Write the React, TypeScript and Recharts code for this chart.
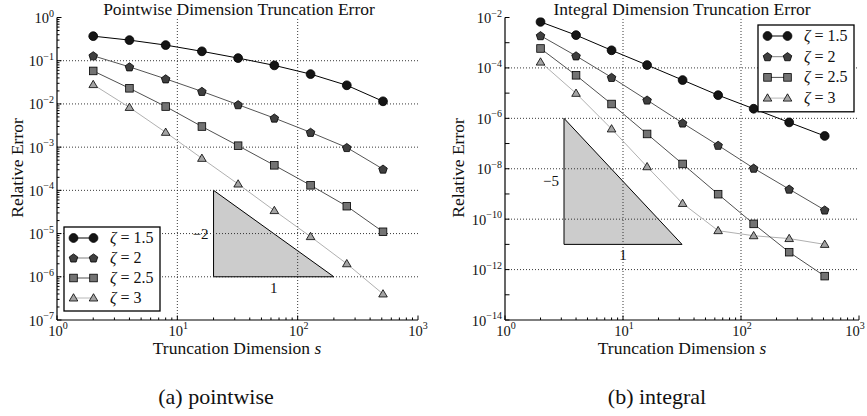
import { LineChart, Line, XAxis, YAxis, ReferenceLine, ReferenceArea } from "recharts";

const SERIF = "'Liberation Serif', 'DejaVu Serif', serif";

// truncation dimensions s
const dims = [2, 4, 8, 16, 32, 64, 128, 256, 512];

// (a) pointwise relative error
const pointZeta15 = [0.37, 0.3, 0.23, 0.165, 0.115, 0.078, 0.049, 0.027, 0.0115];
const pointZeta2 = [0.13, 0.072, 0.038, 0.0195, 0.0096, 0.0047, 0.0022, 0.00098, 0.00031];
const pointZeta25 = [0.058, 0.023, 0.0087, 0.003, 0.00108, 0.00038, 0.000131, 4.3e-5, 1.1e-5];
const pointZeta3 = [0.028, 0.0083, 0.0022, 5.5e-4, 1.4e-4, 3.4e-5, 8.5e-6, 2.0e-6, 4e-7];

// (b) integral relative error
const intZeta15 = [6.7e-3, 2e-3, 5e-4, 1.3e-4, 3.3e-5, 8.3e-6, 2.4e-6, 6.9e-7, 2.0e-7];
const intZeta2 = [1.9e-3, 3e-4, 4.2e-5, 5.3e-6, 6.5e-7, 8.5e-8, 1.05e-8, 1.55e-9, 2.3e-10];
const intZeta25 = [5.9e-4, 5.1e-5, 3.7e-6, 2.4e-7, 1.55e-8, 9.8e-10, 6.5e-11, 4.9e-12, 5.5e-13];
const intZeta3 = [1.7e-4, 9.8e-6, 3.8e-7, 1.2e-8, 4.2e-10, 3.5e-11, 2.2e-11, 1.7e-11, 1.0e-11];

const zetaLabels = ["1.5", "2", "2.5", "3"];

// axis decades
const xDecades = [1, 10, 100, 1000];
const pointYDecades = [1e-7, 1e-6, 1e-5, 1e-4, 1e-3, 1e-2, 1e-1, 1];
const intYDecades = [1e-14, 1e-13, 1e-12, 1e-11, 1e-10, 1e-9, 1e-8, 1e-7, 1e-6, 1e-5, 1e-4, 1e-3, 1e-2];
const minorSteps = [2, 3, 4, 5, 6, 7, 8, 9];

// slope triangles
const pointSlope = { s0: 20, s1: 200, e0: 1e-6, e1: 1e-4, label: "\u22122" };
const intSlope = { s0: 3.1623, s1: 31.623, e0: 1e-11, e1: 1e-6, label: "\u22125" };

type Kind = "circle" | "pentagon" | "square" | "triangle";
const kinds: Kind[] = ["circle", "pentagon", "square", "triangle"];
const lineColors = ["#000000", "#555555", "#505050", "#b0b0b0"];
const legendLineColors = ["#000000", "#808080", "#505050", "#b8b8b8"];

const withMinors = (decades: number[]) => {
  const out: number[] = [];
  decades.forEach((d, i) => {
    out.push(d);
    if (i < decades.length - 1) minorSteps.forEach((m) => out.push(d * m));
  });
  return out;
};

const toRows = (vals: number[]) => dims.map((s, i) => ({ s, e: vals[i] }));

const Marker = ({ kind, cx, cy }: { kind: Kind; cx: number; cy: number }) => {
  if (kind === "circle") return <circle cx={cx} cy={cy} r={4.4} fill="#151515" stroke="#000" strokeWidth={0.8} />;
  if (kind === "pentagon") {
    const pts = [0, 1, 2, 3, 4]
      .map((k) => {
        const a = -Math.PI / 2 + (k * 2 * Math.PI) / 5;
        return `${cx + 4.5 * Math.cos(a)},${cy + 0.4 + 4.5 * Math.sin(a)}`;
      })
      .join(" ");
    return <polygon points={pts} fill="#3f3f3f" stroke="#000" strokeWidth={0.8} />;
  }
  if (kind === "square")
    return <rect x={cx - 3.8} y={cy - 3.8} width={7.6} height={7.6} fill="#737373" stroke="#000" strokeWidth={0.8} />;
  return (
    <polygon
      points={`${cx},${cy - 4.3} ${cx - 4.3},${cy + 3} ${cx + 4.3},${cy + 3}`}
      fill="#a4a4a4"
      stroke="#000"
      strokeWidth={0.8}
    />
  );
};

const expText = (e: number) => (e < 0 ? `\u2212${-e}` : `${e}`);

const LogTick = (props: any) => {
  const { x, y, payload, side, every = 1, maxX = 10000 } = props;
  const lg = Math.log10(payload.value);
  const e = Math.round(lg);
  const major = Math.abs(lg - e) < 1e-6;
  const len = major ? 4.5 : 2.5;
  const show = major && e % every === 0;
  const label = (tx: number, ty: number, anchor: "middle" | "end") => (
    <text x={tx} y={ty} textAnchor={anchor} fontFamily={SERIF} fontSize={14.5} fill="#111">
      <tspan>10</tspan>
      <tspan dy={-6.5} fontSize={10}>
        {expText(e)}
      </tspan>
    </text>
  );
  if (side === "bottom")
    return (
      <g>
        <line x1={x} y1={y} x2={x} y2={y - len} stroke="#000" />
        {show && label(Math.min(x + 1, maxX), y + 15.5, "middle")}
      </g>
    );
  if (side === "top")
    return (
      <g>
        <line x1={x} y1={y} x2={x} y2={y + len} stroke="#000" />
      </g>
    );
  if (side === "left")
    return (
      <g>
        <line x1={x} y1={y} x2={x + len} y2={y} stroke="#000" />
        {show && label(x - 3, y + 5.5, "end")}
      </g>
    );
  return (
    <g>
      <line x1={x} y1={y} x2={x - len} y2={y} stroke="#000" />
    </g>
  );
};

const SlopeShape = (props: any) => {
  const { x, y, width, height, label } = props;
  return (
    <g>
      <polygon
        points={`${x},${y} ${x},${y + height} ${x + width},${y + height}`}
        fill="#cccccc"
        stroke="#000"
        strokeWidth={1}
      />
      <text x={x - 5} y={y + height / 2 + 5} textAnchor="end" fontFamily={SERIF} fontSize={15} fill="#111">
        {label}
      </text>
      <text x={x + width / 2} y={y + height + 16} textAnchor="middle" fontFamily={SERIF} fontSize={15} fill="#111">
        1
      </text>
    </g>
  );
};

type PanelProps = {
  left: number;
  width: number;
  yAxisWidth: number;
  marginRight: number;
  series: number[][];
  yDecades: number[];
  yMinor: boolean;
  yEvery: number;
  gridY: number[];
  slope: { s0: number; s1: number; e0: number; e1: number; label: string };
};

const Panel = ({ left, width, yAxisWidth, marginRight, series, yDecades, yMinor, yEvery, gridY, slope }: PanelProps) => {
  const xTicks = withMinors(xDecades);
  const yTicks = yMinor ? withMinors(yDecades) : yDecades;
  const yDomain = [yDecades[0], yDecades[yDecades.length - 1]];
  return (
    <div style={{ position: "absolute", left, top: 0 }}>
      <LineChart width={width} height={340} margin={{ top: 17.5, right: marginRight, bottom: 0, left: 0 }}>
        <XAxis
          xAxisId="b"
          type="number"
          dataKey="s"
          scale="log"
          domain={[1, 1000]}
          allowDataOverflow
          ticks={xTicks}
          interval={0}
          tickSize={0}
          tickMargin={0}
          tickLine={false}
          height={20}
          axisLine={{ stroke: "#000", strokeWidth: 1.2 }}
          tick={(p: any) => <LogTick {...p} side="bottom" maxX={width - 12} />}
        />
        <XAxis
          xAxisId="t"
          orientation="top"
          mirror
          type="number"
          dataKey="s"
          scale="log"
          domain={[1, 1000]}
          allowDataOverflow
          ticks={xTicks}
          interval={0}
          tickSize={0}
          tickMargin={0}
          tickLine={false}
          height={0}
          axisLine={{ stroke: "#000", strokeWidth: 1.2 }}
          tick={(p: any) => <LogTick {...p} side="top" />}
        />
        <YAxis
          yAxisId="l"
          type="number"
          scale="log"
          domain={yDomain}
          allowDataOverflow
          ticks={yTicks}
          interval={0}
          tickSize={0}
          tickMargin={0}
          tickLine={false}
          width={yAxisWidth}
          axisLine={{ stroke: "#000", strokeWidth: 1.2 }}
          tick={(p: any) => <LogTick {...p} side="left" every={yEvery} />}
        />
        <YAxis
          yAxisId="r"
          orientation="right"
          mirror
          type="number"
          scale="log"
          domain={yDomain}
          allowDataOverflow
          ticks={yTicks}
          interval={0}
          tickSize={0}
          tickMargin={0}
          tickLine={false}
          width={0}
          axisLine={{ stroke: "#000", strokeWidth: 1.2 }}
          tick={(p: any) => <LogTick {...p} side="right" />}
        />
        {[10, 100].map((v) => (
          <ReferenceLine
            key={`gx${v}`}
            xAxisId="b"
            yAxisId="l"
            x={v}
            stroke="#222"
            strokeWidth={0.9}
            strokeDasharray="1 2"
          />
        ))}
        {gridY.map((v) => (
          <ReferenceLine
            key={`gy${v}`}
            xAxisId="b"
            yAxisId="l"
            y={v}
            stroke="#222"
            strokeWidth={0.9}
            strokeDasharray="1 2"
          />
        ))}
        <ReferenceArea
          xAxisId="b"
          yAxisId="l"
          x1={slope.s0}
          x2={slope.s1}
          y1={slope.e0}
          y2={slope.e1}
          shape={(p: any) => <SlopeShape {...p} label={slope.label} />}
        />
        {series
          .map((vals, i) => (
            <Line
              key={zetaLabels[i]}
              xAxisId="b"
              yAxisId="l"
              data={toRows(vals)}
              dataKey="e"
              stroke={lineColors[i]}
              strokeWidth={1}
              isAnimationActive={false}
              activeDot={false}
              dot={(p: any) => <Marker key={`m${i}-${p.index}`} kind={kinds[i]} cx={p.cx} cy={p.cy} />}
            />
          ))
          .reverse()}
      </LineChart>
    </div>
  );
};

const Legend = ({ x, y, gap }: { x: number; y: number; gap: number }) => (
  <g>
    <rect x={x} y={y} width={96} height={gap * 4 + 4} fill="#fff" stroke="#000" strokeWidth={1.3} />
    {zetaLabels.map((z, i) => {
      const cy = y + 11 + i * gap;
      return (
        <g key={z}>
          <line x1={x + 9} y1={cy} x2={x + 29} y2={cy} stroke={legendLineColors[i]} />
          <Marker kind={kinds[i]} cx={x + 9.5} cy={cy} />
          <Marker kind={kinds[i]} cx={x + 29.5} cy={cy} />
          <text x={x + 46} y={cy + 5} fontFamily={SERIF} fontSize={16} fill="#111">
            <tspan fontStyle="italic">{"\u03b6"}</tspan>
            <tspan>{` = ${z}`}</tspan>
          </text>
        </g>
      );
    })}
  </g>
);

export default function App() {
  return (
    <div style={{ position: "absolute", left: 0, top: 0, width: 867, height: 416, background: "#fff", overflow: "hidden" }}>
      <Panel
        left={0}
        width={430}
        yAxisWidth={57}
        marginRight={12}
        series={[pointZeta15, pointZeta2, pointZeta25, pointZeta3]}
        yDecades={pointYDecades}
        yMinor
        yEvery={1}
        gridY={[1e-6, 1e-5, 1e-4, 1e-3, 1e-2, 1e-1]}
        slope={pointSlope}
      />
      <Panel
        left={440}
        width={427}
        yAxisWidth={65}
        marginRight={8}
        series={[intZeta15, intZeta2, intZeta25, intZeta3]}
        yDecades={intYDecades}
        yMinor={false}
        yEvery={2}
        gridY={[1e-12, 1e-10, 1e-8, 1e-6, 1e-4]}
        slope={intSlope}
      />
      <svg width={867} height={416} style={{ position: "absolute", left: 0, top: 0, pointerEvents: "none" }}>
        <Legend x={64} y={227} gap={20} />
        <Legend x={758} y={25} gap={20.7} />
        <g fontFamily={SERIF} fill="#111">
          <text x={239} y={14.5} textAnchor="middle" fontSize={17.5}>
            Pointwise Dimension Truncation Error
          </text>
          <text x={682} y={14.5} textAnchor="middle" fontSize={17.5}>
            Integral Dimension Truncation Error
          </text>
          <text transform="translate(23,168) rotate(-90)" textAnchor="middle" fontSize={17.5}>
            Relative Error
          </text>
          <text transform="translate(464,168) rotate(-90)" textAnchor="middle" fontSize={17.5}>
            Relative Error
          </text>
          <text x={237} y={354} textAnchor="middle" fontSize={17.5}>
            Truncation Dimension <tspan fontStyle="italic">s</tspan>
          </text>
          <text x={682} y={354} textAnchor="middle" fontSize={17.5}>
            Truncation Dimension <tspan fontStyle="italic">s</tspan>
          </text>
          <text x={216} y={404} textAnchor="middle" fontSize={22}>
            (a) pointwise
          </text>
          <text x={657} y={404} textAnchor="middle" fontSize={22}>
            (b) integral
          </text>
        </g>
      </svg>
    </div>
  );
}
